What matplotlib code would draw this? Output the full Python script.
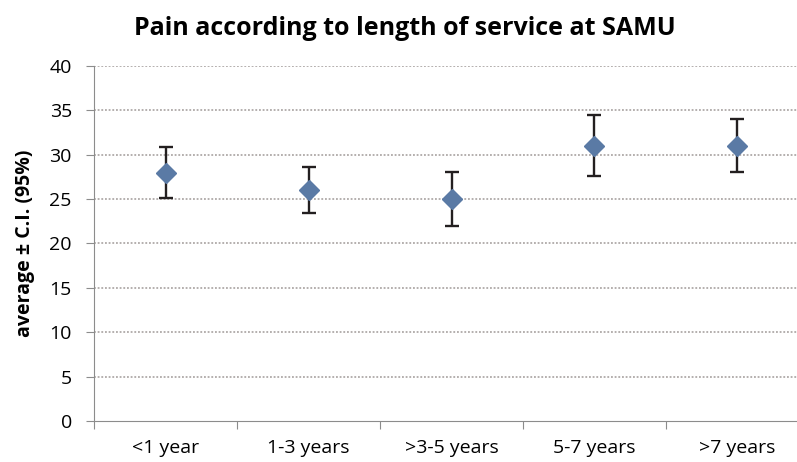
import matplotlib.pyplot as plt
import numpy as np

categories = ["<1 year", "1-3 years", ">3-5 years", "5-7 years", ">7 years"]
means = [28.0, 26.0, 25.0, 31.0, 31.0]
ci_low = [25.1, 23.4, 22.0, 27.6, 28.1]
ci_high = [30.9, 28.6, 28.1, 34.5, 34.0]

plt.rcParams["font.family"] = ["Open Sans", "DejaVu Sans"]

fig = plt.figure(figsize=(7.97, 4.62), dpi=100)
ax = fig.add_axes([0.118, 0.089, 0.897, 0.768])

x = np.arange(len(categories))
yerr = [np.array(means) - np.array(ci_low), np.array(ci_high) - np.array(means)]

for y in range(5, 41, 5):
    ax.axhline(y, color="#a09a98", linestyle=(0, (1.2, 1.2)), linewidth=1.1, zorder=0)

ax.errorbar(x, means, yerr=yerr, fmt="none", ecolor="#231f20", elinewidth=1.7,
            capsize=5, capthick=1.7, zorder=2)
ax.plot(x, means, linestyle="none", marker="D", markersize=10,
        color="#5a7aa5", zorder=3)

ax.set_xlim(-0.5, len(categories) - 0.5)
ax.set_ylim(0, 40)
ax.set_yticks(range(0, 41, 5))
ax.set_xticks(np.arange(-0.5, len(categories), 1.0))
ax.set_xticklabels([])
ax.set_xticks(x, minor=True)
ax.set_xticklabels(categories, minor=True, fontsize=14)
ax.tick_params(axis="x", which="minor", length=0, pad=13)
ax.tick_params(axis="x", which="major", length=6, color="#8c8c8c", direction="out")
ax.tick_params(axis="y", length=6, color="#8c8c8c", labelsize=14, pad=10)

for side in ["top", "right"]:
    ax.spines[side].set_visible(False)
for side in ["left", "bottom"]:
    ax.spines[side].set_color("#8c8c8c")

ax.set_ylabel("average ± C.I. (95%)", fontsize=14, fontweight="bold")
ax.yaxis.set_label_coords(-0.083, 0.5)
fig.text(0.508, 0.939, "Pain according to length of service at SAMU",
         ha="center", va="center", fontsize=18, fontweight="bold")

fig.savefig("out.png", dpi=100)
